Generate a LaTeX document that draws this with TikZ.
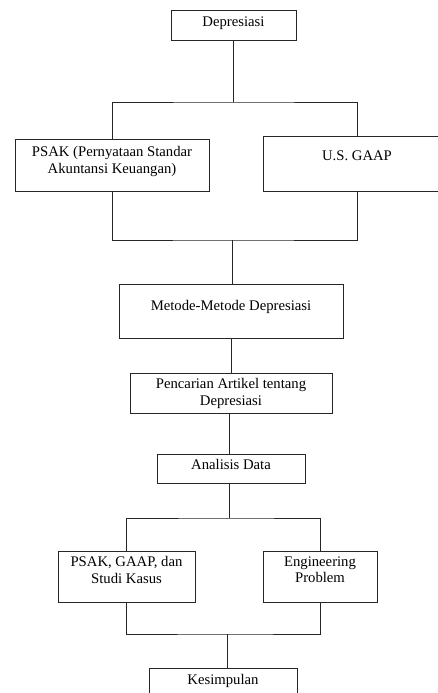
\documentclass[tikz,border=0pt]{standalone}
\usepackage{fontspec}
\setmainfont{Liberation Serif}
\usetikzlibrary{positioning}
\tikzset{
  kotak/.style={
      rectangle,
      inner sep=0pt,
      line width=0.9pt,
      draw=black!85
  },
  judul/.style={
      inner sep=0pt,
      align=center,
      font=\fontsize{14.7}{16.4}\selectfont
  },
  garis/.style={
      line width=0.9pt,
      draw=black!85
  }
}

\begin{document}
\begin{tikzpicture}[x=1pt,y=-1pt]
    \useasboundingbox (0,0) rectangle (438,693);
    \clip (0,0) rectangle (438,693);
    % kotak-kotak
    \node[kotak, minimum width=125pt, minimum height=30pt] (dep) at (233.5,25) {};
    \node[kotak, minimum width=194pt, minimum height=52pt] (psak) at (112,165) {};
    \node[kotak, minimum width=188pt, minimum height=55pt] (gaap) at (357,163.5) {};
    \node[kotak, minimum width=224pt, minimum height=54pt] (metode) at (231,311) {};
    \node[kotak, minimum width=202pt, minimum height=40pt] (cari) at (231,393) {};
    \node[kotak, minimum width=148pt, minimum height=29pt] (analisis) at (231,468.5) {};
    \node[kotak, minimum width=137pt, minimum height=51pt] (studi) at (126.5,576.5) {};
    \node[kotak, minimum width=114pt, minimum height=51pt] (eng) at (320,576.5) {};
    \node[kotak, minimum width=148pt, minimum height=42pt] (kes) at (223,689) {};
    % teks
    \node[judul, below=7pt of dep.north] (t-dep) {Depresiasi};
    \node[judul, below=8pt of psak.north] (t-psak) {PSAK (Pernyataan Standar\\Akuntansi Keuangan)};
    \node[judul, below=15pt of gaap.north] (t-gaap) {U.S. GAAP};
    \node[judul, below=17pt of metode.north] (t-metode) {Metode-Metode Depresiasi};
    \node[judul, below=6pt of cari.north] (t-cari) {Pencarian Artikel tentang\\Depresiasi};
    \node[judul, below=6pt of analisis.north] (t-analisis) {Analisis Data};
    \node[judul, below=6pt of studi.north] (t-studi) {PSAK, GAAP, dan\\Studi Kasus};
    \node[judul, below=6pt of eng.north] (t-eng) {Engineering\\Problem};
    \node[judul, below=7pt of kes.north] (t-kes) {Kesimpulan};
    % percabangan
    \coordinate (j1) at (233,102);
    \coordinate (j2) at (232,240);
    \coordinate (j3) at (229,518);
    \coordinate (j4) at (227,634);
    \draw[garis] (dep.south -| j1) -- (j1);
    \draw[garis] (psak.north) |- (j1) -| (gaap.north);
    \draw[garis] (psak.south) |- (j2) -| (gaap.south);
    \draw[garis] (j2) -- (j2 |- metode.north);
    \draw[garis] (metode.south) -- (cari.north);
    \draw[garis] (cari.south -| j3) -- (analisis.north -| j3);
    \draw[garis] (analisis.south -| j3) -- (j3);
    \draw[garis] (studi.north) |- (j3) -| (eng.north);
    \draw[garis] (studi.south) |- (j4) -| (eng.south);
    \draw[garis] (j4) -- (j4 |- kes.north);
\end{tikzpicture}
\end{document}
